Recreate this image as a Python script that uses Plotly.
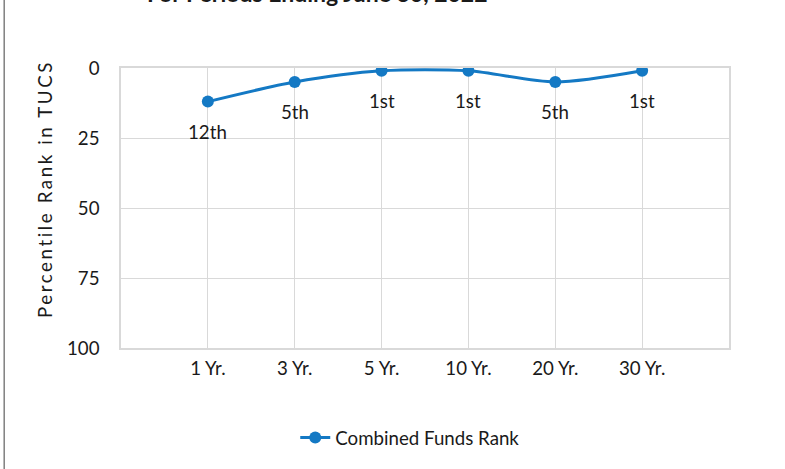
import plotly.graph_objects as go

categories = ["1 Yr.", "3 Yr.", "5 Yr.", "10 Yr.", "20 Yr.", "30 Yr."]
rank_values = [12, 5, 1, 1, 5, 1]
rank_labels = ["12th", "5th", "1st", "1st", "5th", "1st"]
y_ticks = [0, 25, 50, 75, 100]
series_name = "Combined Funds Rank"
title_text = "For Periods Ending June 30, 2022"
y_title = "Percentile Rank in TUCS"

FONT = "Lato, 'Open Sans', sans-serif"
FS = 18.7
BLUE = "#1479C4"
GRID = "#D9D9D9"
TXT = "#1a1a1a"

xpos = list(range(len(categories)))

fig = go.Figure()
fig.add_trace(go.Scatter(
    x=xpos, y=rank_values, name=series_name,
    mode="lines+markers",
    line=dict(color=BLUE, width=3, shape="spline", smoothing=0.8),
    marker=dict(color=BLUE, size=12, symbol="circle"),
    showlegend=True,
))

annotations = []
for xi, yv, lab in zip(xpos, rank_values, rank_labels):
    annotations.append(dict(
        x=xi, y=yv, xref="x", yref="y", text=lab, showarrow=False,
        yshift=-30, font=dict(family=FONT, size=FS, color=TXT),
    ))

# y axis title with letter spacing
annotations.append(dict(
    x=-0.1248, y=0.568, xref="paper", yref="paper",
    xanchor="center", yanchor="middle",
    text='<span style="letter-spacing:2.6px">' + y_title + '</span>',
    textangle=-90, showarrow=False,
    font=dict(family=FONT, size=FS, color=TXT),
))

# cut-off title at top
annotations.append(dict(
    x=0.323, y=1.0, xref="paper", yref="paper",
    xanchor="center", yanchor="bottom", yshift=58.5,
    text="<b>" + title_text + "</b>", showarrow=False,
    font=dict(family=FONT, size=23, color=TXT),
))

fig.update_layout(
    width=785, height=469,
    margin=dict(l=121, r=56, t=68, b=115),
    paper_bgcolor="white", plot_bgcolor="white",
    font=dict(family=FONT, size=FS, color=TXT),
    annotations=annotations,
    legend=dict(
        orientation="h", x=0.2866, y=-0.3206, xanchor="left", yanchor="middle",
        xref="paper", yref="paper",
        font=dict(family=FONT, size=FS, color=TXT),
        bgcolor="rgba(0,0,0,0)",
    ),
    shapes=[dict(
        type="line", xref="paper", yref="paper",
        x0=-0.1921, x1=-0.1921, y0=-0.5, y1=1.5,
        line=dict(color="#7f7f7f", width=1.5),
    )],
)

fig.update_xaxes(
    range=[-1, len(categories)],
    tickmode="array", tickvals=xpos, ticktext=categories,
    showgrid=True, gridcolor=GRID, gridwidth=1,
    showline=True, linecolor=GRID, linewidth=1.5, mirror=True,
    zeroline=False, ticks="", ticklabelstandoff=3,
    tickfont=dict(family=FONT, size=FS, color=TXT),
)
fig.update_yaxes(
    range=[100, 0],
    tickmode="array", tickvals=y_ticks,
    showgrid=True, gridcolor=GRID, gridwidth=1,
    showline=True, linecolor=GRID, linewidth=1.5, mirror=True,
    zeroline=False, ticks="", ticklabelstandoff=16,
    tickfont=dict(family=FONT, size=FS, color=TXT),
)

fig.write_html(
    "out.html",
    config={"displayModeBar": False},
    post_script="document.body.style.margin='0';document.body.style.overflow='hidden';",
)
